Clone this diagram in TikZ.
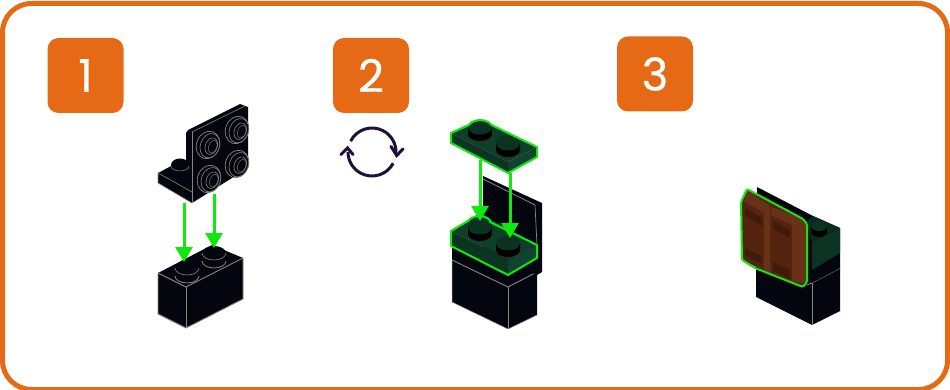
\documentclass[tikz,border=0pt]{standalone}
\usepackage{fontspec}
\setmainfont{Poppins}
\newfontfamily\digitfont{Poppins}[FakeBold=0.7]
\usetikzlibrary{arrows.meta}
\definecolor{orng}{HTML}{E66A15}
\definecolor{blk}{HTML}{03060E}
\definecolor{edge}{HTML}{86867F}
\definecolor{grnT}{HTML}{0F3E29}
\definecolor{grnF}{HTML}{0C3423}
\definecolor{grnS}{HTML}{104430}
\definecolor{grnK}{HTML}{0C3322}
\definecolor{lime}{HTML}{10E810}
\definecolor{cycle}{HTML}{1E0F3C}
\definecolor{brn}{HTML}{54240E}
\definecolor{brnL}{HTML}{683218}
\definecolor{brnD}{HTML}{401B0A}
\tikzset{
  x=1pt,y=-1pt,
  badge/.style={fill=orng,rounded corners=11pt,minimum width=76pt,minimum height=75pt,inner sep=0pt,text=white,font=\digitfont\fontsize{45}{45}\selectfont},
  blkface/.style={fill=blk,draw=none},
  hairline/.style={draw=edge,line width=0.9pt,line join=round},
  greenline/.style={draw=lime,line width=2pt,line join=round},
  move/.style={draw=lime,line width=3pt,-{Triangle[width=17pt,length=15pt]}},
  cyc/.style={draw=cycle,line width=3pt},
  cyctip/.style={draw=cycle,line width=3pt,line cap=round,line join=miter},
}
% y points down, so an arc from 180 to 0 passes along the lower side
\newcommand{\blkstud}[2]{%
  \fill[blk] (#1-12,#2) -- (#1-12,#2+8) arc[start angle=180,end angle=0,x radius=12,y radius=7] -- (#1+12,#2) -- cycle;
  \draw[edge,line width=0.8pt] (#1-12,#2+8) arc[start angle=180,end angle=0,x radius=12,y radius=7];
  \fill[blk] (#1,#2) ellipse[x radius=12,y radius=7];
  \draw[edge,line width=0.6pt] (#1-12,#2) arc[start angle=180,end angle=0,x radius=12,y radius=7];
}
\newcommand{\grnstud}[2]{%
  \fill[black] (#1-12,#2) -- (#1-12,#2+7) arc[start angle=180,end angle=0,x radius=12,y radius=7] -- (#1+12,#2) -- cycle;
  \fill[grnK] (#1,#2) ellipse[x radius=12,y radius=7.5];
}
\newcommand{\tube}[2]{%
  \begin{scope}[shift={(#1,#2)},rotate=-20]
    \draw[edge,line width=0.7pt,fill=blk] (0,0) ellipse[x radius=11.5,y radius=14];
    \draw[edge,line width=0.6pt,fill=blk] (2,0) ellipse[x radius=9.5,y radius=12.5];
    \draw[edge,line width=0.6pt,fill=blk] (3.5,0) ellipse[x radius=6,y radius=8.5];
    \draw[edge,line width=0.4pt] (5,0) ellipse[x radius=4,y radius=6.5];
  \end{scope}
}
\begin{document}
\begin{tikzpicture}
\useasboundingbox (0,0) rectangle (950,390);
\fill[white] (0,0) rectangle (950,390);
\draw[orng,line width=5pt,rounded corners=29pt] (2.5,3.5) rectangle (947.5,389.5);

\node[badge] (b1) at (85.5,75.5) {\raisebox{-2pt}{1}};
\node[badge] (b2) at (371,75.5) {\raisebox{-2pt}{2}};
\node[badge] (b3) at (655,74) {\raisebox{-2pt}{3}};

% cycle icon
\coordinate (cy) at (372,152);
\draw[cyc] (cy) ++(207:24) arc[start angle=207,end angle=365,radius=24];
\draw[cyc] (cy) ++(28:24) arc[start angle=28,end angle=180,radius=24];
\draw[cyctip] (391,146.5) -- (396.7,155.5) -- (403,149);
\draw[cyctip] (341,154.5) -- (347.5,148) -- (353,154.5);

% ---------- step 1: lower brick
\fill[blkface] (158,273) -- (212,245) -- (243,258) -- (243,299) -- (186,328) -- (158,314) -- cycle;
\draw[hairline] (158,273) -- (186,287) -- (243,258);
\draw[hairline] (186,287) -- (186,328);
\draw[hairline] (158,273) -- (158,314) -- (186,328) -- (243,299) -- (243,258);
\blkstud{214}{253}
\blkstud{187}{268}

% step 1: bracket
\fill[blk] (171,165) -- (171,172) -- (189,172) -- (189,165) -- cycle;
\fill[blk] (180,165) ellipse[x radius=9,y radius=6.5];
\fill[blkface] (158,173) -- (173,165) -- (186,172) -- (186,133) -- (188,130) -- (240,104) -- (248,107) -- (248,168) -- (192,203) -- (158,183) -- cycle;
\draw[edge,line width=0.5pt] (171,166) arc[start angle=180,end angle=0,x radius=9,y radius=5];
\draw[hairline,line width=0.6pt] (158,173) -- (192,192);
\draw[hairline,line width=0.6pt] (192,132) -- (245,106);
\draw[hairline,line width=0.6pt] (192,132) -- (192,203);
\draw[hairline,line width=0.6pt] (158,173) -- (158,183) -- (192,203);
\tube{208}{145}
\tube{237}{130}
\tube{237}{164}
\tube{209}{179}

\coordinate (a1s) at (184,203); \coordinate (a1e) at (184,262);
\coordinate (a2s) at (214,194); \coordinate (a2e) at (214,248);
\draw[move] (a1s) -- (a1e);
\draw[move] (a2s) -- (a2e);

% ---------- step 2: lower brick
\fill[blkface] (452,247) -- (452,302) -- (508,329) -- (537,315) -- (537,272) -- (508,260) -- cycle;
\draw[hairline] (452,260) -- (508,287) -- (537,272);
\draw[hairline] (508,287) -- (508,329);
\draw[hairline,line width=0.5pt] (452,260) -- (452,302) -- (508,329) -- (537,315);
% upright
\fill[blkface] (483,176) -- (542,203) -- (542,272) -- (537,275) -- (483,250) -- cycle;
\draw[hairline,line width=0.7pt] (483,179) -- (535,205) -- (537,245);
% lower plate
\fill[grnT] (451,231) -- (480,213) -- (537,245) -- (508,259) -- cycle;
\fill[grnF] (451,231) -- (508,259) -- (508,275) -- (451,246) -- cycle;
\fill[grnS] (508,259) -- (537,245) -- (537,258) -- (508,275) -- cycle;
\grnstud{480}{227}
\grnstud{508}{243}
\draw[greenline] (451,231) -- (468,221) arc[start angle=200,end angle=340,x radius=12,y radius=7.5] -- (490,222) -- (537,245) -- (537,258) -- (508,275) -- (451,246) -- cycle;
% upper plate
\fill[grnT] (451,133) -- (480,119) -- (537,147) -- (508,162) -- cycle;
\fill[grnF] (451,133) -- (508,162) -- (508,173) -- (451,143) -- cycle;
\fill[grnS] (508,162) -- (537,147) -- (537,157) -- (508,173) -- cycle;
\grnstud{480}{127}
\grnstud{508}{143}
\draw[greenline] (451,133) -- (469,125) arc[start angle=200,end angle=340,x radius=12,y radius=7.5] -- (537,147) -- (537,157) -- (508,173) -- (451,143) -- cycle;

\coordinate (a3s) at (480,160); \coordinate (a3e) at (480,221);
\coordinate (a4s) at (510,173); \coordinate (a4e) at (510,238);
\draw[move] (a3s) -- (a3e);
\draw[move] (a4s) -- (a4e);

% ---------- step 3: body
\fill[blkface] (756,262) -- (756,297) -- (812,325) -- (840,311) -- (840,268) -- (812,283) -- cycle;
\draw[hairline] (807,285) -- (812,283) -- (840,268);
\draw[hairline] (812,283) -- (812,325);
\fill[blkface] (757,187) -- (813,216) -- (840,228) -- (840,268) -- (812,283) -- (757,262) -- cycle;
\fill[grnS!75!black] (812,242) -- (840,228) -- (840,253) -- (812,270) -- cycle;
\fill[grnT!70!black] (806,222) -- (813,216) -- (840,228) -- (812,242) -- cycle;
\fill[black] (811,226) -- (811,232) arc[start angle=180,end angle=0,x radius=8,y radius=5] -- (827,226) -- cycle;
\fill[grnK] (819,226) ellipse[x radius=8,y radius=5];
% step 3: door
\fill[brn] (747,189) -- (803,219) -- (807,224) -- (807,282) -- (803,286) -- (770,274) -- (742,260) -- (741,202) -- cycle;
\fill[brnL] (747,190) -- (770,206) -- (764,213) -- (744,201) -- cycle;
\fill[brnL] (771,207) -- (803,219) -- (792,225) -- (771,215) -- cycle;
\fill[brnL] (764,213) -- (770,206) -- (770,274) -- (764,272) -- cycle;
\fill[brnL] (792,225) -- (803,219) -- (806,224) -- (806,283) -- (792,282) -- cycle;
\fill[brnD] (745,208) -- (762,218) -- (762,226) -- (745,216) -- cycle;
\fill[brnD] (745,248) -- (762,256) -- (762,264) -- (745,256) -- cycle;
\fill[brnD] (773,221) -- (790,230) -- (790,238) -- (773,229) -- cycle;
\fill[brnD] (773,262) -- (790,270) -- (790,279) -- (773,271) -- cycle;
\draw[greenline,rounded corners=1.5pt] (747,189) -- (803,219) -- (807,224) -- (807,282) -- (803,287) -- (770,274) -- (755,268) -- (742,260) -- (741,202) -- cycle;
\end{tikzpicture}
\end{document}
